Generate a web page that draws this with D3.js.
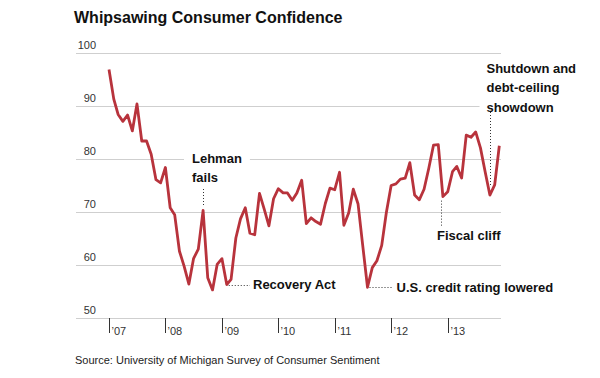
<!DOCTYPE html>
<html><head><meta charset="utf-8">
<script src="https://cdn.jsdelivr.net/npm/d3@7"></script>
<style>
body{margin:0;background:#fff;}
svg{font-family:"Liberation Sans",Arial,Helvetica,sans-serif;}
</style></head>
<body><svg id="c" width="600" height="378"></svg>
<script>
const title = "Whipsawing Consumer Confidence";
const source = "Source: University of Michigan Survey of Consumer Sentiment";
// monthly index, Jan 2007 – Dec 2013
const months = d3.timeMonths(new Date(2007,0,1), new Date(2014,0,1));
const sentiment = [
 96.9,91.3,88.4,87.1,88.3,85.3,90.4,83.4,83.4,80.9,76.1,75.5,
 78.4,70.8,69.5,62.6,59.8,56.4,61.2,63.0,70.3,57.6,55.3,60.1,
 61.2,56.3,57.3,65.1,68.7,70.8,66.0,65.7,73.5,70.6,67.4,72.5,
 74.4,73.6,73.6,72.2,73.6,76.0,67.8,68.9,68.2,67.7,71.6,74.5,
 74.2,77.5,67.5,69.8,74.3,71.5,63.7,55.8,59.5,60.8,63.7,69.9,
 75.0,75.3,76.2,76.4,79.3,73.2,72.3,74.3,78.3,82.6,82.7,72.9,
 73.8,77.6,78.6,76.4,84.5,84.1,85.1,82.1,77.5,73.2,75.1,82.5];
const yTicks = [50,60,70,80,90,100];
const xTickYears = [2007,2008,2009,2010,2011,2012,2013];
const xTickLabels = ["\u201907","\u201908","\u201909","\u201910","\u201911","\u201912","\u201913"];
const data = months.map((m,i)=>({date:m, value:sentiment[i]}));

const svg = d3.select("#c");
const x = d3.scaleTime().domain([new Date(2007,0,1), new Date(2013,0,1)]).range([109, 447.7]);
const y = d3.scaleLinear().domain([50,100]).range([318,53]);
const gridX0 = 76, gridX1 = 501;

// title
svg.append("text").attr("x",74).attr("y",23).attr("font-size",16).attr("font-weight","bold")
  .attr("fill","#111").text(title);

// gridlines + y labels
const yg = svg.append("g");
yTicks.forEach(t=>{
  yg.append("line").attr("x1",gridX0).attr("x2",gridX1).attr("y1",Math.round(y(t))+0.5).attr("y2",Math.round(y(t))+0.5)
    .attr("stroke","#cfcfcf").attr("stroke-width",1);
  yg.append("text").attr("x",96).attr("y",y(t)-4).attr("text-anchor","end")
    .attr("font-size",11).attr("fill","#333").text(t);
});

// x ticks
xTickYears.forEach((yr,i)=>{
  const xx = Math.round(x(new Date(yr,0,1)))+0.5;
  svg.append("line").attr("x1",xx).attr("x2",xx).attr("y1",318).attr("y2",333)
    .attr("stroke","#333").attr("stroke-width",1);
  svg.append("text").attr("x",xx+2).attr("y",335).attr("font-size",11).attr("fill","#333")
    .text(xTickLabels[i]);
});

// annotations
const bold = 13;
function label(lines, lx, ly, lh, pad){
  const g = svg.append("g");
  const t = g.append("text").attr("font-size",bold).attr("font-weight","bold").attr("fill","#111");
  lines.forEach((l,k)=>t.append("tspan").attr("x",lx).attr("y",ly+k*lh).text(l));
  const bb = t.node().getBBox();
  g.insert("rect","text").attr("x",bb.x-pad).attr("y",bb.y-1).attr("width",bb.width+2*pad)
    .attr("height",bb.height+2).attr("fill","#fff");
  return g;
}
function dots(x1,y1,x2,y2){
  svg.append("line").attr("x1",x1).attr("y1",y1).attr("x2",x2).attr("y2",y2)
    .attr("stroke","#333").attr("stroke-width",1).attr("stroke-dasharray","1,2");
}
const pt = i=>[x(data[i].date), y(data[i].value)];

label(["Lehman","fails"],192,163,18.5,8);
{const [px,py]=pt(20); dots(Math.round(px)+0.5,189,Math.round(px)+0.5,py-4);}
{const [px,py]=pt(25); dots(px+2,Math.round(py)+0.5,250,Math.round(py)+0.5);}
label(["Recovery Act"],253,288.5,18,2);
{const [px,py]=pt(55); dots(px+2,Math.round(py)+0.5,392,Math.round(py)+0.5);}
label(["U.S. credit rating lowered"],396.5,292,18,2);
{const [px,py]=pt(71); dots(Math.round(px)-1.5,py+4,Math.round(px)-1.5,228);}
label(["Fiscal cliff"],437,239.5,18,2);
label(["Shutdown and","debt-ceiling","showdown"],486.5,72.5,19.5,7);
{const [px,py]=pt(81); dots(Math.round(px)+0.5,112,Math.round(px)+0.5,py-8);}

// line
const line = d3.line().x(d=>x(d.date)).y(d=>y(d.value));
svg.append("path").datum(data).attr("d",line).attr("fill","none")
  .attr("stroke","#b8333c").attr("stroke-width",2.8).attr("stroke-linejoin","round");

// source
svg.append("text").attr("x",75).attr("y",364).attr("font-size",11).attr("fill","#222").text(source);
</script></body></html>
